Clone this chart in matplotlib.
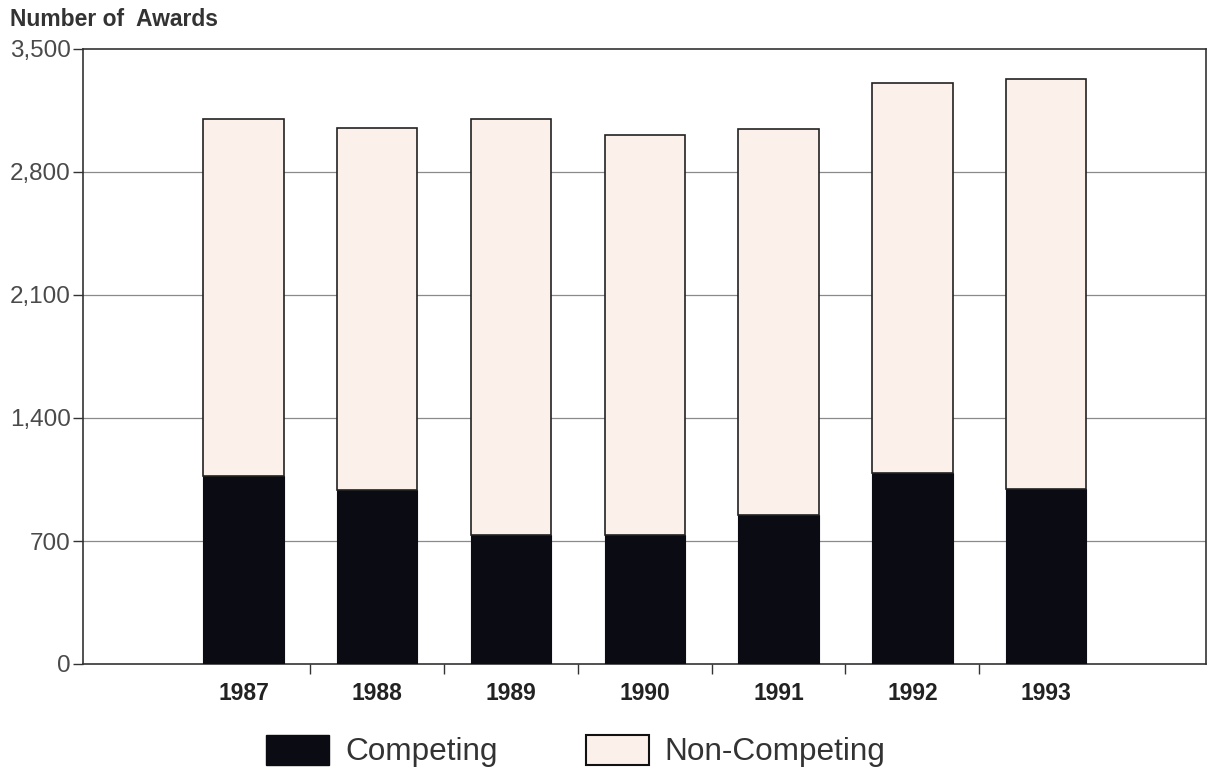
import matplotlib
matplotlib.use("Agg")
import matplotlib.pyplot as plt
from matplotlib.patches import Patch
import numpy as np

years = ["1987", "1988", "1989", "1990", "1991", "1992", "1993"]
competing = [1068, 990, 735, 735, 848, 1085, 995]
total = [3100, 3052, 3100, 3012, 3045, 3305, 3328]
non_competing = [t - c for t, c in zip(total, competing)]
yticks = [0, 700, 1400, 2100, 2800, 3500]
ytick_labels = ["0", "700", "1,400", "2,100", "2,800", "3,500"]

plt.rcParams['font.family'] = ['Liberation Sans', 'DejaVu Sans']

fig = plt.figure(figsize=(12.13, 7.7), dpi=100)
ax = fig.add_axes([83/1213, 1-664/770, (1206-83)/1213, (664-49)/770])

x = np.arange(len(years))
dark = "#0b0b14"
light = "#fcf1ea"
ax.bar(x, competing, width=0.6, color=dark, edgecolor=dark, linewidth=0.8, zorder=3)
ax.bar(x, non_competing, bottom=competing, width=0.6, color=light,
       edgecolor="#222222", linewidth=1.2, zorder=3)

ax.set_xlim(-1.2, 7.195)
ax.set_ylim(0, 3500)
ax.set_yticks(yticks)
ax.set_yticklabels(ytick_labels, fontsize=17.5, color="#4a4a4a")
ax.tick_params(axis='y', length=7, width=1, color="#333333", pad=2)
ax.set_xticks(x)
ax.set_xticklabels(years, fontsize=16.5, fontweight='bold', color="#222222")
ax.tick_params(axis='x', which='major', length=0, pad=13)
ax.set_xticks(x[:-1] + 0.5, minor=True)
ax.tick_params(axis='x', which='minor', length=7, width=1, color="#333333", direction='out')

for y in yticks[1:-1]:
    ax.axhline(y, color="#8a8a8a", linewidth=0.9, zorder=1)

for s in ax.spines.values():
    s.set_color("#333333")
    s.set_linewidth(1.2)

fig.text(10/1213, 1-20/770, "Number of  Awards", fontsize=16.5, fontweight='bold',
         color="#333333", va='center', ha='left')

handles = [Patch(facecolor=dark, edgecolor=dark, label="Competing"),
           Patch(facecolor=light, edgecolor="#111111", linewidth=1.5, label="Non-Competing")]
fig.legend(handles=handles, loc='center', bbox_to_anchor=(576/1213, 1-751/770),
           ncol=2, frameon=False, fontsize=22.7, handlelength=2.0, handleheight=1.1,
           handletextpad=0.5, columnspacing=2.8, borderpad=0, labelcolor="#333333")

fig.savefig("out.png", dpi=100)
